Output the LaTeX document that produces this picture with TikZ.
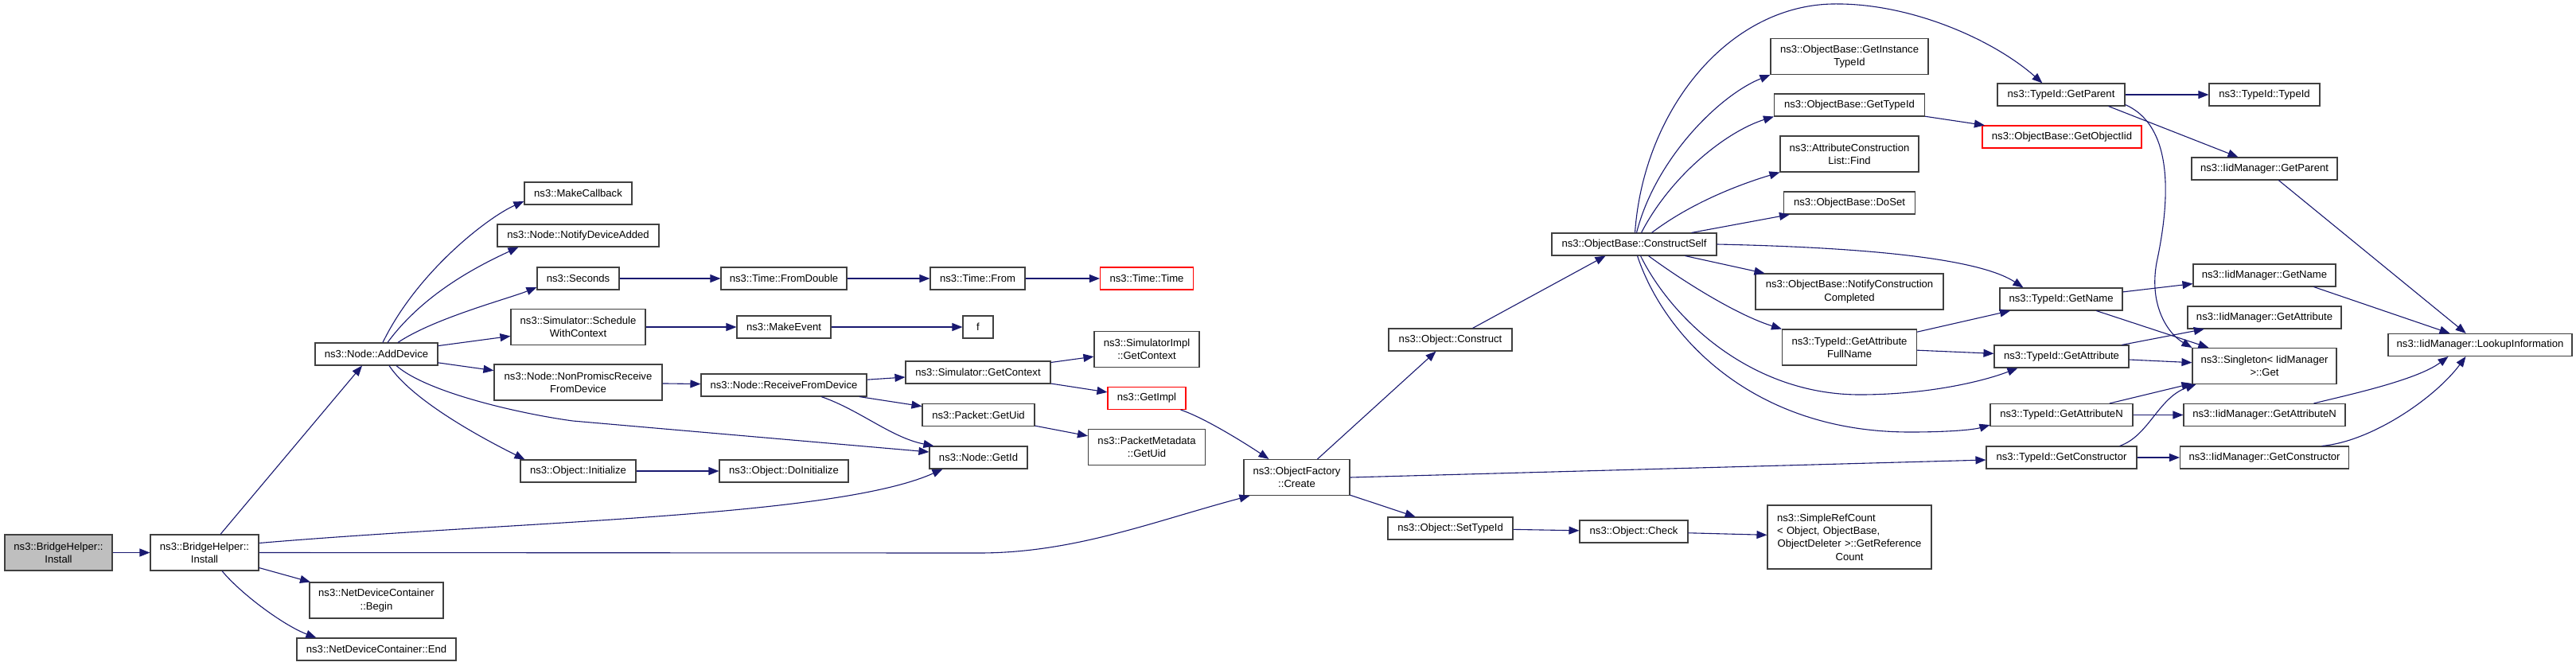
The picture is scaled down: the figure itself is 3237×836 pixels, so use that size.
\documentclass[tikz,border=0pt]{standalone}
\usepackage{fontspec}
\setmainfont{Liberation Sans}
\usetikzlibrary{arrows.meta,calc}
\definecolor{mblue}{HTML}{191970}
\definecolor{bord}{HTML}{404040}
\definecolor{grayfill}{HTML}{BFBFBF}
\newcommand\fs{\fontsize{6.55pt}{8.15pt}\selectfont}
\newcommand\nbox[7][]{\node[box,minimum width=#5*0.5pt,minimum height=#6*0.5pt,#1] (#2) at (#3,#4) {#7};}
\tikzset{
  box/.style={draw=bord,line width=0.55pt,fill=white,inner sep=1pt,align=center,font=\fs,text=black},
  redbox/.style={draw=red},
  rootbox/.style={fill=grayfill},
  edge/.style={draw=mblue,line width=0.55pt,-{Triangle[length=6.5pt,width=5pt,fill=mblue]}},
}
\begin{document}
\begin{tikzpicture}[x=0.5pt,y=-0.5pt]
\fill[white] (0,0) rectangle (3237,836);
\useasboundingbox (0,0) rectangle (3237,836);
% nodes
\nbox[rootbox]{gray}{73.5}{694.5}{135}{45}{ns3::BridgeHelper::\\Install}
\nbox{inst}{257}{694.5}{136}{45}{ns3::BridgeHelper::\\Install}
\nbox{adddev}{473}{445}{154}{28}{ns3::Node::AddDevice}
\nbox{begin}{473}{754.5}{168}{45}{ns3::NetDeviceContainer\\::Begin}
\nbox{endn}{473}{816}{200}{28}{ns3::NetDeviceContainer::End}
\nbox{makecb}{726.5}{243}{135}{28}{ns3::MakeCallback}
\nbox{notify}{726.5}{296}{203}{28}{ns3::Node::NotifyDeviceAdded}
\nbox{seconds}{726.5}{350}{103}{28}{ns3::Seconds}
\nbox{sched}{726.5}{411}{169}{45}{ns3::Simulator::Schedule\\WithContext}
\nbox{nonprom}{726.5}{480.5}{211}{45}{ns3::Node::NonPromiscReceive\\FromDevice}
\nbox{init}{726.5}{592}{145}{28}{ns3::Object::Initialize}
\nbox{fromdbl}{985}{350}{158}{28}{ns3::Time::FromDouble}
\nbox{mkevent}{985}{411}{118}{28}{ns3::MakeEvent}
\nbox{recv}{985}{484}{208}{28}{ns3::Node::ReceiveFromDevice}
\nbox{doinit}{985}{592}{162}{28}{ns3::Object::DoInitialize}
\nbox{tfrom}{1228.5}{350}{119}{28}{ns3::Time::From}
\nbox{fn}{1229}{411}{38}{28}{f}
\nbox{simctx}{1229}{468}{182}{28}{ns3::Simulator::GetContext}
\nbox{pktuid}{1229.5}{521.5}{141}{28}{ns3::Packet::GetUid}
\nbox{getid}{1229.5}{575}{123}{28}{ns3::Node::GetId}
\nbox[redbox]{ttime}{1441}{350}{117}{28}{ns3::Time::Time}
\nbox{simimpl}{1441}{439}{132}{45}{ns3::SimulatorImpl\\::GetContext}
\nbox[redbox]{getimpl}{1441}{500.5}{98}{28}{ns3::GetImpl}
\nbox{pmeta}{1441}{562}{147}{45}{ns3::PacketMetadata\\::GetUid}
\nbox{create}{1629.5}{600}{133}{45}{ns3::ObjectFactory\\::Create}
\nbox{construct}{1822.5}{427}{155}{28}{ns3::Object::Construct}
\nbox{settid}{1822.5}{664}{157}{28}{ns3::Object::SetTypeId}
\nbox{cself}{2053.5}{307}{207}{28}{ns3::ObjectBase::ConstructSelf}
\nbox{check}{2053}{668}{136}{28}{ns3::Object::Check}
\nbox{ginst}{2324}{71}{198}{45}{ns3::ObjectBase::GetInstance\\TypeId}
\nbox{gtid}{2324}{132}{189}{28}{ns3::ObjectBase::GetTypeId}
\nbox{find}{2324}{193.5}{174}{45}{ns3::AttributeConstruction\\List::Find}
\nbox{doset}{2324}{255}{165}{28}{ns3::ObjectBase::DoSet}
\nbox{notifyc}{2324}{366.5}{236}{45}{ns3::ObjectBase::NotifyConstruction\\Completed}
\nbox{fullname}{2324}{436.5}{169}{45}{ns3::TypeId::GetAttribute\\FullName}
\nbox[text width=91pt]{srefc}{2324}{675}{206}{80}{ns3::SimpleRefCount\hfill\null\\{<} Object, ObjectBase,\hfill\null\\ObjectDeleter {>}::GetReference\\Count}
\nbox{tparent}{2590}{119}{160}{28}{ns3::TypeId::GetParent}
\nbox[redbox]{goiid}{2591}{172}{200}{28}{ns3::ObjectBase::GetObjectIid}
\nbox{tname}{2590}{376}{154}{28}{ns3::TypeId::GetName}
\nbox{tattr}{2590.5}{448}{169}{28}{ns3::TypeId::GetAttribute}
\nbox{tattrn}{2590.5}{521.5}{179}{28}{ns3::TypeId::GetAttributeN}
\nbox{tctor}{2590.5}{575}{189}{28}{ns3::TypeId::GetConstructor}
\nbox{ttid}{2845.5}{119}{139}{28}{ns3::TypeId::TypeId}
\nbox{iparent}{2845.5}{212}{183}{28}{ns3::IidManager::GetParent}
\nbox{iname}{2845.5}{346}{179}{28}{ns3::IidManager::GetName}
\nbox{iattr}{2845.5}{399}{193}{28}{ns3::IidManager::GetAttribute}
\nbox{single}{2845.5}{460}{181}{45}{ns3::Singleton{<} IidManager\\ {>}::Get}
\nbox{iattrn}{2845.5}{521.5}{203}{28}{ns3::IidManager::GetAttributeN}
\nbox{ictor}{2845.5}{575}{212}{28}{ns3::IidManager::GetConstructor}
\nbox{lookup}{3116.5}{433.5}{231}{28}{ns3::IidManager::LookupInformation}
% edges
\draw[edge] (gray) -- (inst);
\draw[edge] ($(inst.north)+(20,0)$) -- ($(adddev.south)+(-18,0)$);
\draw[edge] (inst.east) -- (1230,695) .. controls (1350,695) and (1450,655) .. ($(create.south west)+(8,0)$);
\draw[edge] ($(inst.east)+(0,-12)$) .. controls (650,655) and (1050,650) .. ($(getid.south)+(-45,0)$);
\draw[edge] (inst) -- (begin);
\draw[edge] ($(inst.south)+(22,0)$) .. controls +(25,30) and +(-40,-15) .. ($(endn.north west)+(25,0)$);
\draw[edge] ($(adddev.north)+(8,0)$) .. controls (525,340) and (615,272) .. ($(makecb.west)+(0,10)$);
\draw[edge] ($(adddev.north)+(14,0)$) .. controls (535,365) and (610,330) .. ($(notify.south west)+(27,0)$);
\draw[edge] ($(adddev.north)+(27,0)$) .. controls (545,400) and (640,375) .. ($(seconds.west)+(0,11)$);
\draw[edge] (adddev) -- (sched);
\draw[edge] (adddev) -- (nonprom);
\draw[edge] ($(adddev.south)+(25,0)$) .. controls +(40,35) and +(-60,-8) .. (720,529) -- ($(getid.west)+(0,-7)$);
\draw[edge] ($(adddev.south)+(16,0)$) .. controls +(30,45) and +(-50,-25) .. ($(init.north west)+(6,0)$);
\draw[edge] (seconds) -- (fromdbl);
\draw[edge] (fromdbl) -- (tfrom);
\draw[edge] (tfrom) -- (ttime);
\draw[edge] (sched) -- (mkevent);
\draw[edge] (mkevent) -- (fn);
\draw[edge] (nonprom) -- (recv);
\draw[edge] (recv) -- (simctx);
\draw[edge] (recv) -- (pktuid);
\draw[edge] ($(recv.south)+(47,0)$) .. controls (1080,515) and (1120,550) .. ($(getid.north west)+(6,0)$);
\draw[edge] (simctx) -- (simimpl);
\draw[edge] (simctx) -- (getimpl);
\draw[edge] (pktuid) -- (pmeta);
\draw[edge] (init) -- (doinit);
\draw[edge] ($(getimpl.south east)+(-7,0)$) .. controls +(30,10) and +(-30,-20) .. ($(create.north)+(-35,0)$);
\draw[edge] ($(create.north)+(26,0)$) -- ($(construct.south)+(-18,0)$);
\draw[edge] (create) -- (settid);
\draw[edge] (create.east) -- ($(tctor.west)+(0,3)$);
\draw[edge] ($(construct.north)+(28,0)$) -- ($(cself.south)+(-36,0)$);
\draw[edge] (settid) -- (check);
\draw[edge] (check) -- (srefc);
\draw[edge] ($(cself.north)+(3,0)$) .. controls (2080,200) and (2160,120) .. (ginst.south west);
\draw[edge] ($(cself.north)+(9,0)$) .. controls (2100,220) and (2170,165) .. (gtid.south west);
\draw[edge] ($(cself.north)+(22,0)$) .. controls (2125,255) and (2185,232) .. (find.south west);
\draw[edge] ($(cself.north)+(72,0)$) -- ($(doset.south west)+(8,0)$);
\draw[edge] ($(cself.south)+(64,0)$) -- ($(notifyc.north west)+(12,0)$);
\draw[edge] ($(cself.south)+(18,0)$) .. controls (2110,350) and (2180,395) .. (fullname.north west);
\draw[edge] ($(cself.north)+(1,0)$) .. controls (2065,140) and (2170,8) .. (2302,5) .. controls (2400,3) and (2505,50) .. ($(tparent.north west)+(57,0)$);
\draw[edge] (cself.east) .. controls (2300,310) and (2480,320) .. ($(tname.north west)+(30,0)$);
\draw[edge] ($(cself.south)+(8,0)$) .. controls (2100,400) and (2200,496) .. (2337,496) .. controls (2420,496) and (2490,480) .. ($(tattr.south west)+(30,0)$);
\draw[edge] ($(cself.south)+(4,0)$) .. controls (2090,420) and (2200,543) .. (2400,543) .. controls (2450,543) and (2480,540) .. ($(tattrn.south west)+(0,-2)$);
\draw[edge] (gtid) -- (goiid);
\draw[edge] (fullname) -- (tname);
\draw[edge] (fullname) -- (tattr);
\draw[edge] (tparent) -- (ttid);
\draw[edge] ($(tparent.south east)+(-21,0)$) -- ($(iparent.north)+(-33,0)$);
\draw[edge] ($(tparent.south east)+(0,-2)$) .. controls (2735,160) and (2725,260) .. (2710,330) .. controls (2700,385) and (2725,420) .. (single.north west);
\draw[edge] (tname) -- (iname);
\draw[edge] (tname) -- (single);
\draw[edge] (tattr) -- (iattr);
\draw[edge] (tattr) -- (single);
\draw[edge] (tattrn) -- (single);
\draw[edge] (tattrn) -- (iattrn);
\draw[edge] ($(tctor.north)+(73,0)$) .. controls (2700,548) and (2712,500) .. ($(single.south west)+(5,0)$);
\draw[edge] (tctor) -- (ictor);
\draw[edge] (iparent) -- (lookup);
\draw[edge] ($(iname.south)+(62,0)$) -- ($(lookup.north)+(-38,0)$);
\draw[edge] ($(iattrn.north)+(62,0)$) .. controls +(40,-10) and +(-40,30) .. ($(lookup.south)+(-40,0)$);
\draw[edge] ($(ictor.north)+(72,0)$) .. controls (2980,555) and (3060,500) .. ($(lookup.south)+(-18,0)$);
\end{tikzpicture}
\end{document}
